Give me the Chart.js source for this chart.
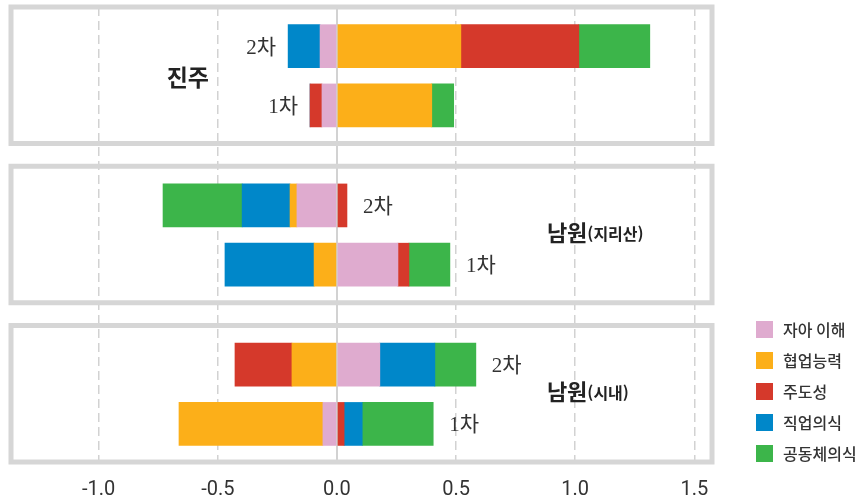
<!DOCTYPE html>
<html lang="ko">
<head>
  <meta charset="UTF-8">
  <title>지역별 역량 변화</title>
  <script src="https://cdn.jsdelivr.net/npm/chart.js"></script>
  <style>
    html, body { margin: 0; padding: 0; background: #fff; }
    #wrap { width: 858px; height: 501px; }
    canvas { display: block; }
  </style>
</head>
<body>
  <div id="wrap">
    <canvas id="myChart" width="858" height="501"></canvas>
  </div>

  <script>
    // panels, top to bottom
    const regions = ['진주', '남원', '남원'];
    const regionNotes = ['', '(지리산)', '(시내)'];
    const rounds = ['2차', '1차'];

    // bar order: 진주 2차, 진주 1차, 지리산 2차, 지리산 1차, 시내 2차, 시내 1차
    const seriesNames = ['자아 이해', '협업능력', '주도성', '직업의식', '공동체의식'];
    const selfUnderstanding = [-0.071, -0.063, -0.168,  0.256,  0.180, -0.059];
    const collaboration     = [ 0.520,  0.398, -0.029, -0.096, -0.189, -0.604];
    const initiative        = [ 0.495, -0.050,  0.042,  0.046, -0.239,  0.030];
    const vocation          = [-0.134,  0.000, -0.201, -0.374,  0.231,  0.076];
    const community         = [ 0.298,  0.092, -0.332,  0.172,  0.172,  0.298];
    const xTicks = [-1.0, -0.5, 0.0, 0.5, 1.0, 1.5];

    const seriesValues = [selfUnderstanding, collaboration, initiative, vocation, community];
    const seriesColors = ['#dfabcf', '#fcaf19', '#d5392b', '#0087c9', '#3cb54a'];

    // layout on the y scale: one panel per unit
    const PANEL_H = 0.857;
    const ROW_Y = [0.246, 0.618];
    const barY = [];
    regions.forEach((r, p) => rounds.forEach((_, k) => barY.push(p + ROW_Y[k])));

    const KR = '"Noto Sans CJK KR", "Noto Sans", sans-serif';

    const panelPlugin = {
      id: 'panels',
      beforeDatasetsDraw(chart) {
        const { ctx, chartArea, scales: { y } } = chart;
        ctx.save();
        ctx.strokeStyle = '#d6d6d6';
        ctx.lineWidth = 5;
        regions.forEach((r, p) => {
          const top = y.getPixelForValue(p);
          const bottom = y.getPixelForValue(p + PANEL_H);
          ctx.strokeRect(chartArea.left, top, chartArea.right - chartArea.left, bottom - top);
        });
        ctx.restore();
      },
      afterDatasetsDraw(chart) {
        const { ctx, chartArea, scales: { x, y } } = chart;
        ctx.save();
        ctx.textBaseline = 'middle';

        // 2차 / 1차 labels next to the bar ends
        ctx.fillStyle = '#333';
        ctx.font = '21px "Liberation Serif", ' + KR;
        barY.forEach((pos, j) => {
          let neg = 0, plus = 0;
          seriesValues.forEach(s => { if (s[j] < 0) neg += s[j]; else plus += s[j]; });
          const panel = Math.floor(j / rounds.length);
          const label = rounds[j % rounds.length];
          const py = y.getPixelForValue(pos) + 2;
          if (panel === 0) {
            ctx.textAlign = 'right';
            ctx.fillText(label, x.getPixelForValue(neg) - 12, py);
          } else {
            ctx.textAlign = 'left';
            ctx.fillText(label, x.getPixelForValue(plus) + 16, py);
          }
        });

        // panel titles
        ctx.fillStyle = '#222';
        regions.forEach((name, p) => {
          const py = y.getPixelForValue(p + PANEL_H / 2);
          if (p === 0) {
            ctx.textAlign = 'right';
            ctx.font = 'bold 23px ' + KR;
            ctx.fillText(name, x.getPixelForValue(-0.537), py + 2);
          } else {
            ctx.textAlign = 'left';
            ctx.font = 'bold 22px ' + KR;
            const lx = x.getPixelForValue(0.881);
            ctx.fillText(name, lx, py - 2);
            const w = ctx.measureText(name).width;
            ctx.font = 'bold 16px ' + KR;
            ctx.fillText(regionNotes[p], lx + w, py - 1);
          }
        });

        // legend
        const lx = chartArea.right + 44;
        chart.data.datasets.forEach((ds, i) => {
          const ly = 321 + i * 31;
          ctx.fillStyle = ds.backgroundColor;
          ctx.fillRect(lx, ly, 17, 17);
          ctx.fillStyle = '#333';
          ctx.textAlign = 'left';
          ctx.font = '500 16px ' + KR;
          ctx.fillText(ds.label, lx + 27, ly + 9);
        });
        ctx.restore();
      }
    };

    const ctx = document.getElementById('myChart').getContext('2d');
    const myChart = new Chart(ctx, {
      type: 'bar',
      data: {
        datasets: seriesNames.map((name, i) => ({
          label: name,
          data: barY.map((pos, j) => ({ x: seriesValues[i][j], y: pos })),
          backgroundColor: seriesColors[i],
          borderWidth: 0,
          barThickness: 43
        }))
      },
      options: {
        indexAxis: 'y',
        responsive: false,
        animation: false,
        devicePixelRatio: 1,
        layout: { padding: { top: 7, left: 11, right: 146, bottom: 0 } },
        plugins: {
          legend: { display: false },
          tooltip: { enabled: false }
        },
        scales: {
          x: {
            type: 'linear',
            stacked: true,
            min: -1.368,
            max: 1.574,
            afterBuildTicks: scale => { scale.ticks = xTicks.map(v => ({ value: v })); },
            afterFit: scale => { scale.height = 39; },
            grid: {
              drawTicks: false,
              color: '#d2d2d2',
              lineWidth: c => (c.tick && c.tick.value === 0 ? 2 : 1.5)
            },
            border: {
              display: false,
              dash: c => (c.tick && c.tick.value === 0 ? [] : [9, 5])
            },
            ticks: {
              padding: 16,
              color: '#333',
              font: { family: 'Roboto', size: 20 },
              callback: v => Number(v).toFixed(1)
            }
          },
          y: {
            type: 'linear',
            stacked: true,
            reverse: true,
            offset: false,
            bounds: 'data',
            grace: 0,
            min: 0,
            max: PANEL_H + regions.length - 1,
            grid: { offset: false },
            display: false
          }
        }
      },
      plugins: [panelPlugin]
    });
  </script>
</body>
</html>
